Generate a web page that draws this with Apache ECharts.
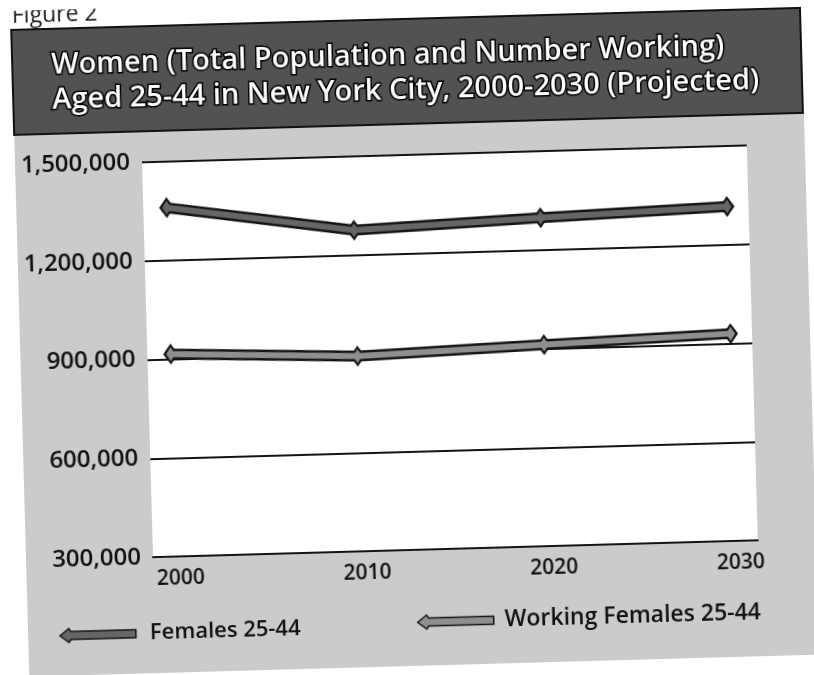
<!DOCTYPE html>
<html>
<head>
<meta charset="utf-8">
<script src="https://cdn.jsdelivr.net/npm/echarts@6/dist/echarts.min.js"></script>
<style>
  html, body { margin: 0; padding: 0; background: #ffffff; overflow: hidden; }
  #chart { position: absolute; left: 0; top: 0; width: 814px; height: 675px;
           transform: rotate(-1.6deg); transform-origin: 50% 50%; }
</style>
</head>
<body>
<div id="chart"></div>
<script>
const years = [2000, 2010, 2020, 2030];
const females = [1360000, 1276000, 1298000, 1316000];
const working = [915000, 893000, 912000, 930000];
const yTicks = [300000, 600000, 900000, 1200000, 1500000];
const seriesNames = ['Females 25-44', 'Working Females 25-44'];
const titleLines = ['Women (Total Population and Number Working)', 'Aged 25-44 in New York City, 2000-2030 (Projected)'];
const figureLabel = 'Figure 2';

const FONT = 'Open Sans';
const arrowIcon = 'path://M0,7 L9,0 L11,3 L76,3 L76,11 L11,11 L9,14 Z';
const femFill = '#666666';
const workFill = '#8f8f8f';
const edge = '#141414';

const pairs = vals => years.map((y, i) => [y, vals[i]]);

const chart = echarts.init(document.getElementById('chart'), null, { renderer: 'canvas' });

function lineSeries(name, vals, color, width, sym, z) {
  return {
    type: 'line', name: name, data: pairs(vals), z: z, silent: true,
    symbol: 'diamond', symbolSize: sym, showSymbol: true,
    lineStyle: { color: color, width: width, join: 'miter' },
    itemStyle: { color: color },
    emphasis: { disabled: true }
  };
}

const labelFont = { color: '#111', fontFamily: FONT, fontWeight: 600 };

chart.setOption({
  animation: false,
  backgroundColor: 'transparent',
  graphic: [
    { type: 'rect', z: -20, shape: { x: 20, y: 19, width: 790, height: 647 }, style: { fill: '#cbcbcb' } },
    { type: 'rect', z: -10, shape: { x: 20, y: 19, width: 789, height: 105 }, style: { fill: '#525252', stroke: '#111', lineWidth: 2 } },
    { type: 'text', z: 5, style: { text: figureLabel, x: 21, y: 17, verticalAlign: 'bottom', font: '23px "Open Sans"', fill: '#222' } }
  ],
  title: {
    text: titleLines.join('\n'),
    left: 59, top: 38, padding: 0,
    textStyle: { color: '#ffffff', fontSize: 29, fontWeight: 600, fontFamily: FONT, lineHeight: 35,
                 textBorderColor: '#000', textBorderWidth: 3 }
  },
  legend: [
    { left: 46, top: 610, itemWidth: 76, itemHeight: 14, selectedMode: false,
      data: [{ name: seriesNames[0], icon: arrowIcon, itemStyle: { color: femFill, borderColor: edge, borderWidth: 1.5 } }],
      textStyle: Object.assign({ fontSize: 22, padding: [0, 0, 0, 9] }, labelFont) },
    { left: 404, top: 606, itemWidth: 76, itemHeight: 14, selectedMode: false,
      data: [{ name: seriesNames[1], icon: arrowIcon, itemStyle: { color: workFill, borderColor: edge, borderWidth: 1.5 } }],
      textStyle: Object.assign({ fontSize: 23, padding: [0, 0, 0, 6] }, labelFont) }
  ],
  grid: { left: 147, top: 155, width: 605, height: 395, show: true, backgroundColor: '#ffffff', borderWidth: 0, containLabel: false },
  xAxis: {
    type: 'value', min: 1998.75, max: 2031.15,
    axisLine: { show: true, lineStyle: { color: edge, width: 2 } },
    axisTick: { show: false },
    splitLine: { show: false },
    axisLabel: Object.assign({ customValues: years, formatter: v => String(v), fontSize: 21, margin: 12, padding: [0, 0, 0, 8] }, labelFont)
  },
  yAxis: {
    type: 'value', min: yTicks[0], max: yTicks[yTicks.length - 1], interval: yTicks[1] - yTicks[0],
    axisLine: { show: false }, axisTick: { show: false },
    splitLine: { show: true, lineStyle: { color: edge, width: 2 } },
    axisLabel: Object.assign({ formatter: v => v.toLocaleString('en-US'), fontSize: 24, margin: 12 }, labelFont)
  },
  series: [
    lineSeries(seriesNames[0], females, edge, 11, [15, 21], 3),
    lineSeries(seriesNames[0] + ' fill', females, femFill, 6, [9, 14], 4),
    lineSeries(seriesNames[1], working, edge, 11, [15, 21], 3),
    lineSeries(seriesNames[1] + ' fill', working, workFill, 6, [9, 14], 4)
  ]
});
</script>
</body>
</html>
